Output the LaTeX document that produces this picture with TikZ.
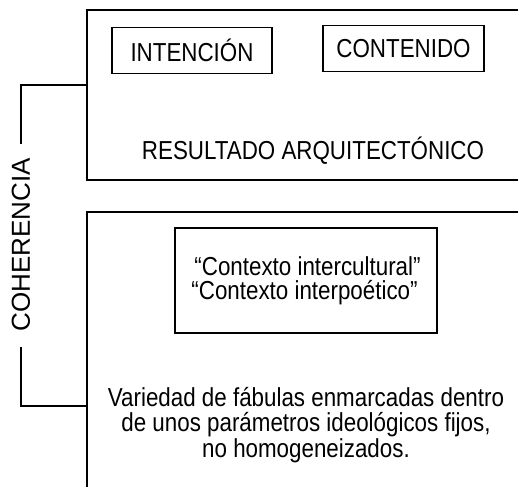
\documentclass[tikz,border=0pt]{standalone}
\usepackage{fontspec}
\setmainfont{Liberation Sans}[FakeStretch=0.86]
\newfontfamily\cohfont{Liberation Sans}
\usetikzlibrary{positioning}

\begin{document}
\begin{tikzpicture}[x=1pt,y=-1pt,line width=1.5pt,
    every node/.style={font=\fontsize{26pt}{25.5pt}\selectfont,inner sep=0pt},
    frame/.style={draw,line width=1.8pt,minimum width=443pt},
    tag/.style={draw,minimum width=#1,minimum height=46pt}]
    \clip (0,0) rectangle (518,486);
    \node[frame,minimum height=170pt] (top) at (308.5,95) {};
    \node[frame,minimum height=288pt] (bot) at (308.5,356) {};
    \node[tag=160pt] (int) at (192,50.5) {INTENCIÓN};
    \node[tag=161pt] (con) at (403.5,48.5) {CONTENIDO};
    \node[anchor=base] (res) at (313,160) {RESULTADO ARQUITECTÓNICO};
    \node[draw,minimum width=262pt,minimum height=105pt,align=left] (ctx) at (306,280.5)
      {\hspace{3pt}“Contexto intercultural”\\[-1.5pt]“Contexto interpoético”};
    % base of the last line
    \node[anchor=base,align=center] (var) at (306,457)
      {Variedad de fábulas enmarcadas dentro\\de unos parámetros ideológicos fijos,\\no homogeneizados.};
    \node[rotate=90,font=\cohfont\fontsize{26pt}{26pt}\selectfont] (coh) at (21,245) {COHERENCIA};
    \draw ([yshift=10pt]top.west) -| ([yshift=14pt]coh.east);
    \draw ([yshift=-15pt]coh.west) |- ([yshift=-50pt]bot.west);
\end{tikzpicture}
\end{document}
